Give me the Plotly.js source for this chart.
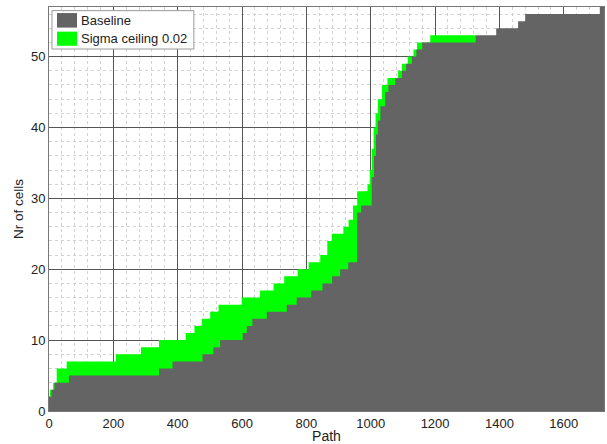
<!DOCTYPE html>
<html>
<head>
<meta charset="utf-8">
<script src="https://cdn.plot.ly/plotly-3.0.1.min.js"></script>
<style>html,body{margin:0;padding:0;background:#fff;}#chart{width:607px;height:444px;}</style>
</head>
<body>
<div id="chart"></div>
<script>
// Number of paths (x extent of the data)
const pathTotal = 1725;

// Baseline: path index where each step starts, and the number of cells from there
const baselineStart = [0, 8, 17, 62, 342, 384, 477, 511, 532, 602, 615, 632, 677, 739, 770, 815, 850, 880, 905, 930, 958, 970, 1003, 1010, 1016, 1022, 1030, 1045, 1055, 1076, 1097, 1110, 1128, 1142, 1160, 1325, 1390, 1458, 1480, 1712];
const baselineCells = [2, 3, 4, 5, 6, 7, 8, 9, 10, 11, 12, 13, 14, 15, 16, 17, 18, 19, 20, 21, 28, 29, 33, 36, 39, 41, 43, 45, 46, 47, 48, 49, 50, 51, 52, 53, 54, 55, 56, 57];

// Sigma ceiling 0.02 (coincides with the baseline after the last step listed here)
const sigmaStart = [0, 3, 13, 24, 55, 208, 286, 342, 425, 452, 475, 501, 527, 599, 656, 698, 731, 773, 807, 843, 865, 879, 915, 931, 945, 958, 990, 997, 1003, 1009, 1015, 1022, 1035, 1052, 1085, 1097, 1115, 1133, 1144, 1185];
const sigmaCells = [2, 3, 4, 6, 7, 8, 9, 10, 11, 12, 13, 14, 15, 16, 17, 18, 19, 20, 21, 22, 24, 25, 26, 27, 29, 31, 32, 34, 37, 40, 42, 44, 46, 47, 48, 49, 50, 51, 52, 53];
const sigmaEnd = 1325;

const seriesNames = ['Baseline', 'Sigma ceiling 0.02'];
const seriesColors = ['#646464', '#00ff00'];

function stepTrace(starts, cells, endX, name, color) {
  return {
    type: 'scatter',
    mode: 'lines',
    name: name,
    x: starts.concat([endX]),
    y: cells.concat([cells[cells.length - 1]]),
    line: {shape: 'hv', width: 0, color: color},
    fill: 'tozeroy',
    fillcolor: color,
    hoverinfo: 'x+y',
    showlegend: false
  };
}

const data = [
  stepTrace(sigmaStart, sigmaCells, sigmaEnd, seriesNames[1], seriesColors[1]),
  stepTrace(baselineStart, baselineCells, pathTotal, seriesNames[0], seriesColors[0])
];

const fontFam = '"Liberation Sans", Arial, Helvetica, sans-serif';

// Legend box drawn in paper coordinates (MATLAB-style legend)
const legendShapes = [
  {type: 'rect', xref: 'paper', yref: 'paper', x0: 0.0054, x1: 0.261, y0: 0.896, y1: 0.991,
   line: {color: '#999', width: 1}, fillcolor: '#ffffff', layer: 'above'},
  {type: 'rect', xref: 'paper', yref: 'paper', x0: 0.0144, x1: 0.0505, y0: 0.949, y1: 0.985,
   line: {width: 0}, fillcolor: seriesColors[0], layer: 'above'},
  {type: 'rect', xref: 'paper', yref: 'paper', x0: 0.0144, x1: 0.0505, y0: 0.904, y1: 0.939,
   line: {width: 0}, fillcolor: seriesColors[1], layer: 'above'}
];
const legendTexts = [
  {xref: 'paper', yref: 'paper', x: 0.054, y: 0.966, xanchor: 'left', yanchor: 'middle', showarrow: false,
   text: seriesNames[0], font: {family: fontFam, size: 13, color: '#222'}},
  {xref: 'paper', yref: 'paper', x: 0.054, y: 0.921, xanchor: 'left', yanchor: 'middle', showarrow: false,
   text: seriesNames[1], font: {family: fontFam, size: 13, color: '#222'}}
];

const layout = {
  width: 607,
  height: 444,
  margin: {l: 49, r: 3, t: 7, b: 33},
  paper_bgcolor: '#ffffff',
  plot_bgcolor: '#ffffff',
  font: {family: fontFam, size: 13, color: '#222'},
  showlegend: false,
  shapes: legendShapes,
  annotations: legendTexts,
  xaxis: {
    range: [0, pathTotal],
    dtick: 200, tick0: 0,
    showgrid: true, gridcolor: '#555', gridwidth: 1,
    zeroline: false,
    showline: true, mirror: true, linecolor: '#777', linewidth: 1,
    ticks: '',
    minor: {dtick: 40, showgrid: true, gridcolor: '#d2d2d2', griddash: 'dot', gridwidth: 1},
    tickfont: {size: 13, color: '#222'},
    title: {text: 'Path', font: {size: 14, color: '#222'}, standoff: 0},
    automargin: false
  },
  yaxis: {
    range: [0, 57],
    dtick: 10, tick0: 0,
    showgrid: true, gridcolor: '#555', gridwidth: 1,
    zeroline: false,
    showline: true, mirror: true, linecolor: '#777', linewidth: 1,
    ticks: '',
    minor: {dtick: 2, showgrid: true, gridcolor: '#d2d2d2', griddash: 'dot', gridwidth: 1},
    tickfont: {size: 13, color: '#222'},
    title: {text: 'Nr of cells', font: {size: 13.5, color: '#222'}, standoff: 4},
    automargin: false
  }
};

Plotly.newPlot('chart', data, layout, {displayModeBar: false, staticPlot: true});
</script>
</body>
</html>
